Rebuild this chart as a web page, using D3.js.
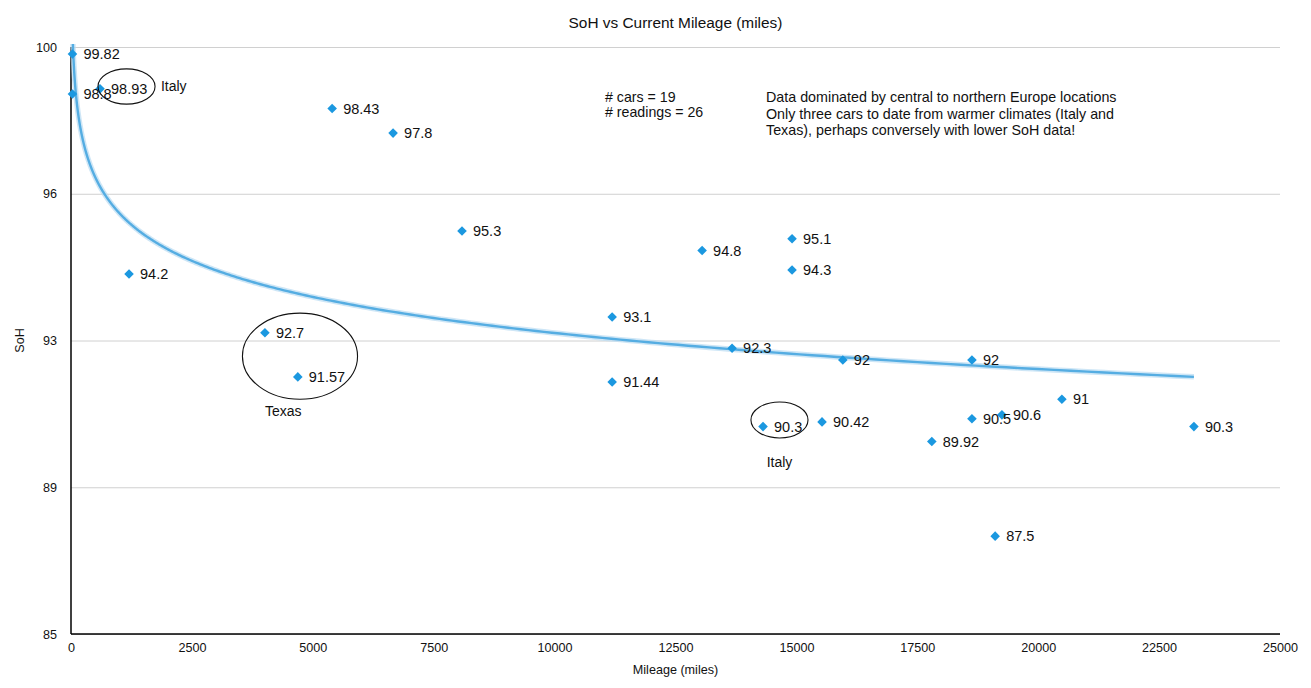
<!DOCTYPE html>
<meta charset="utf-8">
<style>
  body { margin: 0; background: #fff; }
  text { font-family: "Liberation Sans", Arial, Helvetica, sans-serif; fill: #111; }
</style>
<body>
<div id="chart"></div>
<script src="https://d3js.org/d3.v7.min.js"></script>
<script>
const mileage = [30, 30, 600, 5400, 6660, 8085, 1200, 4010, 4690, 11190, 11190, 13050,
                 14910, 14910, 13670, 14310, 15530, 15960, 17800, 18630, 18630, 19250,
                 19110, 20490, 23220];
const soh = [99.82, 98.8, 98.93, 98.43, 97.8, 95.3, 94.2, 92.7, 91.57, 93.1, 91.44, 94.8,
             95.1, 94.3, 92.3, 90.3, 90.42, 92, 89.92, 92, 90.5, 90.6,
             87.5, 91, 90.3];
const xTicks = [0, 2500, 5000, 7500, 10000, 12500, 15000, 17500, 20000, 22500, 25000];
const yTicks = [85, 88.75, 92.5, 96.25, 100];

// circled groups: centre (miles, SoH), radius in miles / SoH, caption
const circles = [
  { cx: 1148, cy: 98.99, rx: 590, ry: 0.45, label: "Italy", lx: 1860, ly: 99.0, anchor: "start" },
  { cx: 4735, cy: 92.10, rx: 1190, ry: 1.10, label: "Texas", lx: 4390, ly: 90.7, anchor: "middle" },
  { cx: 14650, cy: 90.47, rx: 590, ry: 0.46, label: "Italy", lx: 14650, ly: 89.4, anchor: "middle" }
];
const notesLeft = ["# cars = 19", "# readings = 26"];
const notesRight = ["Data dominated by central to northern Europe locations",
                    "Only three cars to date from warmer climates (Italy and",
                    "Texas), perhaps conversely with lower SoH data!"];

const points = mileage.map((m, i) => ({ m, s: soh[i] }));

// ——— layout ———
const W = 1311, H = 688;
const margin = { top: 47, right: 31, bottom: 54, left: 71 };
const width = W - margin.left - margin.right;
const height = H - margin.top - margin.bottom;

const x = d3.scaleLinear().domain([0, 25000]).range([0, width]);
const y = d3.scaleLinear().domain([85, 100]).range([height, 0]);

const svg = d3.select("#chart").append("svg")
    .attr("width", W).attr("height", H);

svg.append("text")
    .attr("x", margin.left + width / 2).attr("y", 23)
    .attr("text-anchor", "middle").attr("dy", "0.35em")
    .style("font-size", "15.4px")
    .text("SoH vs Current Mileage (miles)");

const g = svg.append("g").attr("transform", `translate(${margin.left},${margin.top})`);

// gridlines + y labels
g.append("g")
    .call(d3.axisLeft(y).tickValues(yTicks).tickSize(-width).tickPadding(14)
      .tickFormat(d => Math.round(d)))
    .call(a => a.select(".domain").remove())
    .call(a => a.selectAll(".tick line").attr("stroke", "#d0d0d0"))
    .call(a => a.selectAll(".tick text").style("font-size", "12.6px")
      .style("font-family", "Liberation Sans, Arial, sans-serif").attr("fill", "#111"));

g.append("g")
    .attr("transform", `translate(0,${height})`)
    .call(d3.axisBottom(x).tickValues(xTicks).tickSize(0).tickPadding(9)
      .tickFormat(d3.format("d")))
    .call(a => a.select(".domain").remove())
    .call(a => a.selectAll(".tick text").style("font-size", "12.6px")
      .style("font-family", "Liberation Sans, Arial, sans-serif").attr("fill", "#111"));

// axis lines
g.append("line").attr("x1", 0).attr("x2", 0).attr("y1", 0).attr("y2", height)
    .attr("stroke", "#000").attr("stroke-width", 1.5);
g.append("line").attr("x1", 0).attr("x2", width).attr("y1", height).attr("y2", height)
    .attr("stroke", "#000").attr("stroke-width", 1.5);

svg.append("text")
    .attr("transform", `translate(20,${margin.top + height / 2}) rotate(-90)`)
    .attr("text-anchor", "middle").attr("dy", "0.35em")
    .style("font-size", "12.6px").text("SoH");
svg.append("text")
    .attr("x", margin.left + width / 2).attr("y", 670)
    .attr("text-anchor", "middle").attr("dy", "0.35em")
    .style("font-size", "12.6px").text("Mileage (miles)");

// ——— logarithmic trendline, least squares on ln(mileage) ———
const lx = points.map(p => Math.log(p.m));
const mL = d3.mean(lx), mS = d3.mean(soh);
const b = d3.sum(points, (p, i) => (lx[i] - mL) * (p.s - mS)) / d3.sum(lx, v => (v - mL) ** 2);
const a = mS - b * mL;
const [xmin, xmax] = d3.extent(mileage);
const trend = d3.range(0, 401).map(i => {
  const m = Math.exp(Math.log(xmin) + (Math.log(xmax) - Math.log(xmin)) * i / 400);
  return { m, s: a + b * Math.log(m) };
});

svg.append("defs").append("clipPath").attr("id", "plot")
  .append("rect").attr("x", -2).attr("y", -3).attr("width", width + 4).attr("height", height + 3);

const line = d3.line().x(d => x(d.m)).y(d => y(d.s));
const tg = g.append("g").attr("clip-path", "url(#plot)");
tg.append("path").datum(trend).attr("d", line)
    .attr("fill", "none").attr("stroke", "#b9dcf2").attr("stroke-width", 5.5).attr("opacity", 0.7);
tg.append("path").datum(trend).attr("d", line)
    .attr("fill", "none").attr("stroke", "#55ade2").attr("stroke-width", 2.4);

// ——— points ———
const diamond = d3.symbol().type(d3.symbolSquare).size(46);
g.selectAll(".pt").data(points).join("path")
    .attr("class", "pt")
    .attr("d", diamond)
    .attr("transform", d => `translate(${x(d.m)},${y(d.s)}) rotate(45)`)
    .attr("fill", "#1b98e0");

g.selectAll(".lbl").data(points).join("text")
    .attr("class", "lbl")
    .attr("x", d => x(d.m) + 11).attr("y", d => y(d.s))
    .attr("dy", "0.35em")
    .style("font-size", "14.5px")
    .text(d => d.s);

// ——— annotations ———
g.selectAll(".ring").data(circles).join("ellipse")
    .attr("cx", d => x(d.cx)).attr("cy", d => y(d.cy))
    .attr("rx", d => x(d.rx) - x(0)).attr("ry", d => y(100 - d.ry) - y(100))
    .attr("fill", "none").attr("stroke", "#111").attr("stroke-width", 1.1);
g.selectAll(".ringlbl").data(circles).join("text")
    .attr("x", d => x(d.lx)).attr("y", d => y(d.ly))
    .attr("dy", "0.35em").attr("text-anchor", d => d.anchor)
    .style("font-size", "14px")
    .text(d => d.label);

svg.append("g").selectAll("text").data(notesLeft).join("text")
    .attr("x", 605).attr("y", (d, i) => 97 + i * 15.5)
    .attr("dy", "0.35em").style("font-size", "14.2px").text(d => d);
svg.append("g").selectAll("text").data(notesRight).join("text")
    .attr("x", 766).attr("y", (d, i) => 97 + i * 16.5)
    .attr("dy", "0.35em").style("font-size", "14.3px").text(d => d);
</script>
</body>
